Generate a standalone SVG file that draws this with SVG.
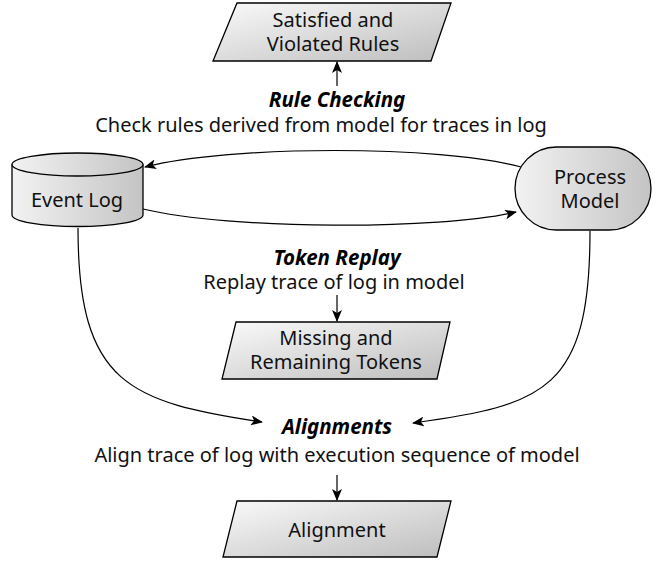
<svg xmlns="http://www.w3.org/2000/svg" width="656" height="562" viewBox="0 0 656 562">
<defs>
<linearGradient id="g" x1="0" y1="0" x2="1" y2="1">
<stop offset="0" stop-color="#fafafa"/>
<stop offset="1" stop-color="#bdbdbd"/>
</linearGradient>
<linearGradient id="gh" x1="0" y1="0" x2="1" y2="0">
<stop offset="0" stop-color="#f2f2f2"/>
<stop offset="1" stop-color="#c4c4c4"/>
</linearGradient>
<marker id="arr" viewBox="0 0 12 10" refX="11" refY="5" markerWidth="12" markerHeight="10" markerUnits="userSpaceOnUse" orient="auto">
<path d="M0,0 L12,5 L0,10 L3,5 Z" fill="#000"/>
</marker>
</defs>
<style>
.box{stroke:#000;stroke-width:1.3;fill:url(#g)}
.lbl{font-family:"Noto Sans","Open Sans",sans-serif;font-size:20px;fill:#111;text-anchor:middle}
.hd{font-family:"Noto Sans","Open Sans",sans-serif;font-size:20.5px;font-weight:bold;font-style:italic;fill:#000;text-anchor:middle}
.c{fill:none;stroke:#000;stroke-width:1.2;marker-end:url(#arr)}
</style>
<g id="satisfied">
<path class="box" d="M237,3 L451,3 L431,61 L213,61 Z"/>
<text class="lbl" x="333" y="27">Satisfied and</text>
<text class="lbl" x="333" y="51">Violated Rules</text>
</g>
<g id="eventlog">
<path class="box" style="fill:url(#gh)" d="M12,164.5 L12,215 A65.5,11.5 0 0 0 143,215 L143,164.5"/>
<ellipse class="box" style="fill:url(#gh)" cx="77.5" cy="164.5" rx="65.5" ry="11.5"/>
<text class="lbl" x="77" y="207">Event Log</text>
</g>
<g id="processmodel">
<rect class="box" x="515" y="147" width="136" height="83" rx="41.5" ry="41.5" style="fill:url(#gh)"/>
<text class="lbl" x="590" y="184">Process</text>
<text class="lbl" x="590" y="208">Model</text>
</g>
<g id="missing">
<path class="box" d="M236,322 L450,322 L437,379 L222,379 Z"/>
<text class="lbl" x="336" y="345">Missing and</text>
<text class="lbl" x="336" y="369">Remaining Tokens</text>
</g>
<g id="alignment">
<path class="box" d="M237,501 L451,501 L437,557 L223,557 Z"/>
<text class="lbl" x="337" y="537">Alignment</text>
</g>
<g id="labels">
<text class="hd" x="337" y="107">Rule Checking</text>
<text class="lbl" x="321" y="132">Check rules derived from model for traces in log</text>
<text class="hd" x="337" y="265">Token Replay</text>
<text class="lbl" x="334" y="289">Replay trace of log in model</text>
<text class="hd" x="337" y="434">Alignments</text>
<text class="lbl" x="337" y="462">Align trace of log with execution sequence of model</text>
</g>
<g id="connectors">
<path class="c" d="M337,86 L337,62"/>
<path class="c" d="M521,167 C440,145 230,145 145,167"/>
<path class="c" d="M143,209 C230,230 440,230 516,212"/>
<path class="c" d="M337,295 L337,321"/>
<path class="c" d="M78,228 C78,385 130,402 262,422"/>
<path class="c" d="M590,231 C590,390 545,405 413,423"/>
<path class="c" d="M337,475 L337,500"/>
</g>
</svg>
